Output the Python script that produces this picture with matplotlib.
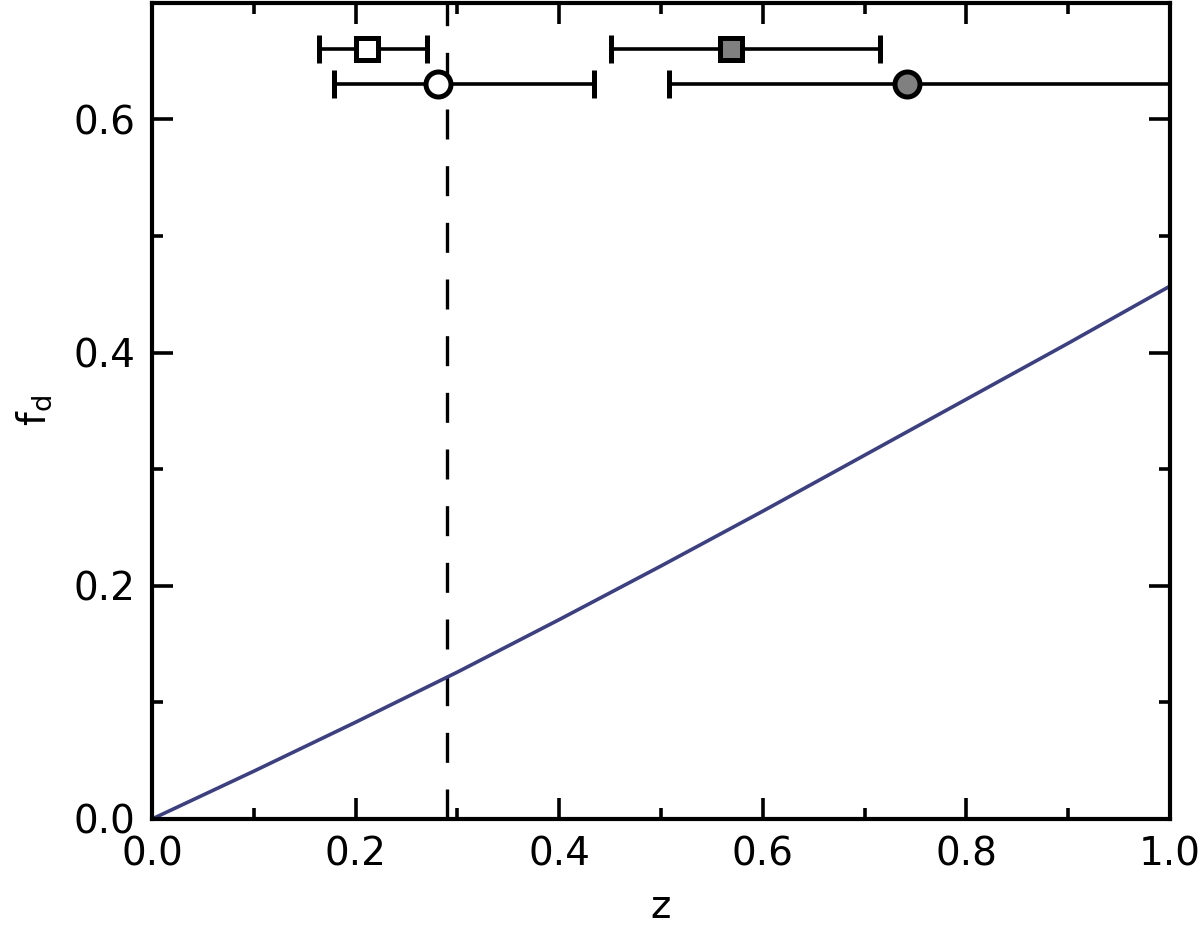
import numpy as np
import matplotlib
matplotlib.use('Agg')
import matplotlib.pyplot as plt
from matplotlib.ticker import MultipleLocator

# model curve f_d(z)
z_curve = [0.0, 0.1, 0.2, 0.3, 0.4, 0.5, 0.6, 0.7, 0.8, 0.9, 1.0]
fd_curve = [0.0, 0.041, 0.083, 0.126, 0.171, 0.217, 0.264, 0.312, 0.360, 0.408, 0.457]

z_dash = 0.29

# measured points: z, lower end, upper end, plotted height
pt_names = ['open square', 'open circle', 'grey square', 'grey circle']
pt_z = [0.211, 0.281, 0.569, 0.742]
pt_lo = [0.164, 0.179, 0.451, 0.508]
pt_hi = [0.270, 0.434, 0.715, 1.10]
pt_y = [0.660, 0.630, 0.660, 0.630]
pt_marker = ['s', 'o', 's', 'o']
pt_face = ['white', 'white', '#808080', '#808080']

plt.rcParams['font.family'] = ['DejaVu Sans']
fig = plt.figure(figsize=(12, 9.25), dpi=100)
ax = fig.add_axes([0.1267, 0.1146, 0.8483, 0.8824])

ax.plot(z_curve, fd_curve, color='#3b3f86', lw=2.6, zorder=2)
ax.axvline(z_dash, color='black', lw=2.4, dashes=(9, 8), zorder=1)

for i in range(len(pt_z)):
    xerr = [[pt_z[i] - pt_lo[i]], [pt_hi[i] - pt_z[i]]]
    ax.errorbar([pt_z[i]], [pt_y[i]], xerr=xerr, fmt=pt_marker[i],
                ms=16 if pt_marker[i] == 's' else 18,
                mfc=pt_face[i], mec='black', mew=3.6,
                ecolor='black', elinewidth=2.6, capsize=10, capthick=2.6,
                zorder=3)

ax.set_xlim(0, 1)
ax.set_ylim(0, 0.7)
ax.xaxis.set_major_locator(MultipleLocator(0.2))
ax.xaxis.set_minor_locator(MultipleLocator(0.1))
ax.yaxis.set_major_locator(MultipleLocator(0.2))
ax.yaxis.set_minor_locator(MultipleLocator(0.1))
ax.xaxis.set_major_formatter(plt.FuncFormatter(lambda v, p: '%.1f' % v))
ax.yaxis.set_major_formatter(plt.FuncFormatter(lambda v, p: '%.1f' % v))
ax.tick_params(which='both', direction='in', top=True, right=True, width=2.6,
               labelsize=28, pad=12)
ax.tick_params(which='major', length=15)
ax.tick_params(which='minor', length=8)
for s in ax.spines.values():
    s.set_linewidth(3.0)

ax.set_xlabel('z', fontsize=28, labelpad=10)
ax.set_ylabel(r'f$_\mathregular{d}$', fontsize=28, labelpad=14)

fig.savefig('out.png', dpi=100)
